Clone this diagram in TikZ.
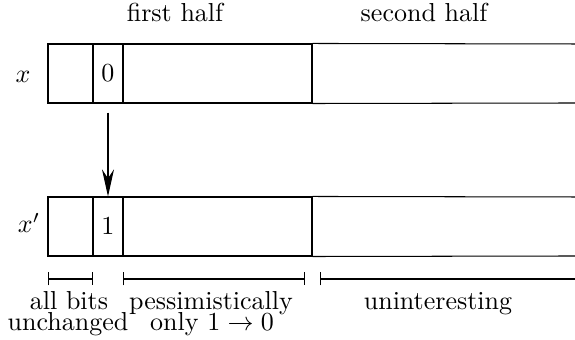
\documentclass[tikz,border=0pt]{standalone}
\usetikzlibrary{arrows.meta}
\begin{document}
\begin{tikzpicture}[x=0.3846pt,y=-0.3846pt, line width=0.4pt,
  cellbox/.style={draw, inner sep=0pt, minimum height=22.69pt},
  lbl/.style={inner sep=0pt, anchor=base},
  spanbar/.style={{Bar[width=5pt]}-{Bar[width=5pt]}},
  spanleft/.style={{Bar[width=5pt]}-}]
\useasboundingbox (0,0) rectangle (575,340);
% headers
\node[lbl] (h1) at (175,22) {first half};
\node[lbl] (h2) at (424,22) {second half};
% row x
\node[cellbox, minimum width=17.31pt] (a0) at (70.5,73.5) {};
\node[cellbox, minimum width=11.54pt] (c0) at (108,73.5) {$0$};
\node[cellbox, minimum width=72.69pt] (b0) at (217.5,73.5) {};
\draw (b0.north east) -- (575,44);
\draw (b0.south east) -- (575,103);
\node[lbl] (x0) at (23,83) {$x$};
% row x'
\node[cellbox, minimum width=17.31pt] (a1) at (70.5,226.5) {};
\node[cellbox, minimum width=11.54pt] (c1) at (108,226.5) {$1$};
\node[cellbox, minimum width=72.69pt] (b1) at (217.5,226.5) {};
\draw (b1.north east) -- (575,197);
\draw (b1.south east) -- (575,256);
\node[lbl] (x1) at (29,233) {$x'$};
% arrow
\draw[-{Stealth[length=10.4pt,width=4.6pt]}] ([yshift=-3.46pt]c0.south) -- (c1.north);
% spans
\coordinate (s1a) at (48,279); \coordinate (s1b) at (93,279);
\coordinate (s2a) at (123,279); \coordinate (s2b) at (305,279);
\coordinate (s3a) at (320,279); \coordinate (s3b) at (575,279);
\draw[spanbar] (s1a) -- (s1b);
\draw[spanbar] (s2a) -- (s2b);
\draw[spanleft] (s3a) -- (s3b);
% bottom labels
\node[lbl] (l1a) at (69,310) {all bits};
\node[lbl] (l1b) at (68,331) {unchanged};
\node[lbl] (l2a) at (211,310) {pessimistically};
\node[lbl] (l2b) at (212,331) {only $1\to 0$};
\node[lbl] (l3) at (438,310) {uninteresting};
\end{tikzpicture}
\end{document}
